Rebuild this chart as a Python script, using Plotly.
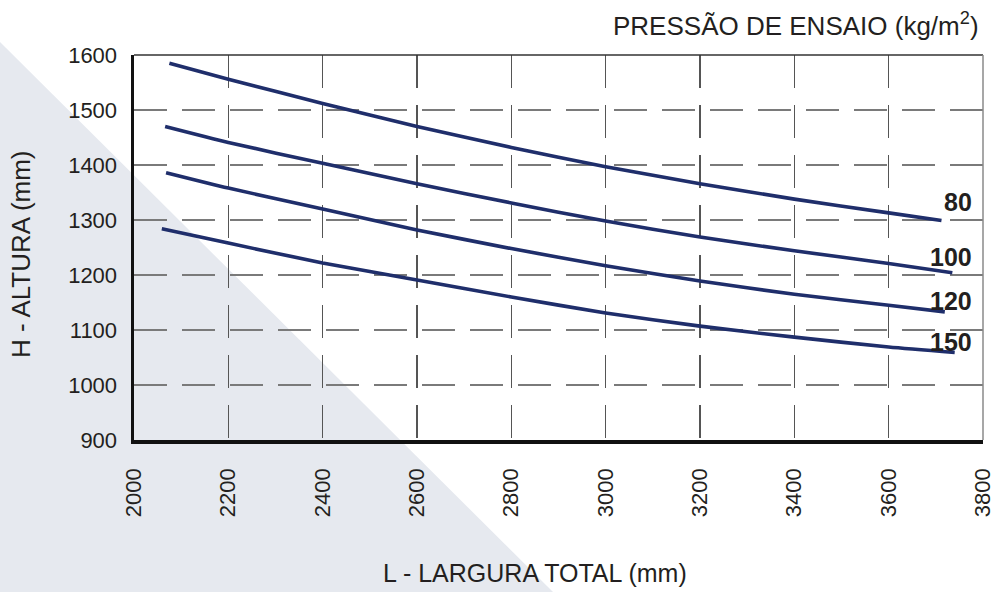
import plotly.graph_objects as go

# ---- data ----
pressures = ["80", "100", "120", "150"]

x_80 = [2075, 2200, 2400, 2600, 2800, 3000, 3200, 3400, 3600, 3712]
y_80 = [1585, 1556, 1512, 1470, 1432, 1397, 1366, 1338, 1313, 1299]

x_100 = [2066, 2200, 2400, 2600, 2800, 3000, 3200, 3400, 3600, 3735]
y_100 = [1470, 1441, 1403, 1366, 1331, 1298, 1269, 1244, 1221, 1204]

x_120 = [2068, 2200, 2400, 2600, 2800, 3000, 3200, 3400, 3600, 3719]
y_120 = [1386, 1358, 1320, 1282, 1248, 1217, 1189, 1165, 1145, 1133]

x_150 = [2059, 2200, 2400, 2600, 2800, 3000, 3200, 3400, 3600, 3740]
y_150 = [1284, 1258, 1222, 1191, 1160, 1131, 1107, 1087, 1069, 1059]

x_ticks = [2000, 2200, 2400, 2600, 2800, 3000, 3200, 3400, 3600, 3800]
y_ticks = [900, 1000, 1100, 1200, 1300, 1400, 1500, 1600]

series_x = [x_80, x_100, x_120, x_150]
series_y = [y_80, y_100, y_120, y_150]

FONT = "Liberation Sans, Arial, Helvetica, sans-serif"
TXT = "#231f20"
LINE = "#1f2e6b"

fig = go.Figure()
for name, xs, ys in zip(pressures, series_x, series_y):
    fig.add_trace(go.Scatter(
        x=xs, y=ys, mode="lines", name=name,
        line=dict(color=LINE, width=3.6, shape="spline", smoothing=0.6),
        showlegend=False, hoverinfo="skip"))

# curve labels (bold numbers at right end)
label_pos = {"80": 1332, "100": 1233, "120": 1153, "150": 1079}
for name in pressures:
    fig.add_annotation(x=3780, y=label_pos[name], xref="x", yref="y",
                       text=f"<b>{name}</b>", showarrow=False,
                       xanchor="right", yanchor="middle",
                       font=dict(family=FONT, size=25, color=TXT))

# grey background triangle (paper coords computed from plot-area geometry)
L, R, T, B = 134, 983, 55, 440
W, H = R - L, B - T
def px(xp): return (xp - L) / W
def py(yp): return (B - yp) / H

tri = f"M {px(0)},{py(42)} L {px(553)},{py(592)} L {px(0)},{py(592)} Z"
fig.add_shape(type="path", path=tri, xref="paper", yref="paper",
              fillcolor="#e6e9ef", line=dict(width=0), layer="below")

# top and right thin borders
fig.add_shape(type="line", xref="paper", yref="paper", x0=0, x1=1, y0=1, y1=1,
              line=dict(color="#333333", width=1.5))
fig.add_shape(type="line", xref="paper", yref="paper", x0=1, x1=1, y0=0, y1=1,
              line=dict(color="#8a8a8a", width=1.5))

# titles
fig.add_annotation(x=px(981), y=py(25), xref="paper", yref="paper",
                   text="PRESSÃO DE ENSAIO (kg/m<sup>2</sup>)", showarrow=False,
                   xanchor="right", yanchor="middle",
                   font=dict(family=FONT, size=26, color=TXT))
fig.add_annotation(x=px(535), y=py(573), xref="paper", yref="paper",
                   text="L - LARGURA TOTAL (mm)", showarrow=False,
                   xanchor="center", yanchor="middle",
                   font=dict(family=FONT, size=25, color=TXT))
fig.add_annotation(x=px(21), y=py(254), xref="paper", yref="paper",
                   text="H - ALTURA (mm)", showarrow=False, textangle=-90,
                   xanchor="center", yanchor="middle",
                   font=dict(family=FONT, size=26, color=TXT))

fig.update_layout(
    width=997, height=592,
    margin=dict(l=L, r=997 - R, t=T, b=592 - B, pad=0, autoexpand=False),
    paper_bgcolor="white", plot_bgcolor="rgba(0,0,0,0)",
    font=dict(family=FONT, size=22, color=TXT),
)
fig.update_xaxes(
    range=[2000, 3800], tickvals=x_ticks, ticktext=[str(v) for v in x_ticks],
    tickangle=-90, showline=True, linecolor="#111111", linewidth=3.5,
    showgrid=True, gridcolor="#555555", gridwidth=1.3, griddash="33px,17px",
    ticks="", ticklabelstandoff=16, zeroline=False, automargin=False,
    tickfont=dict(family=FONT, size=22, color=TXT))
fig.update_yaxes(
    range=[900, 1600], tickvals=y_ticks, ticktext=[str(v) for v in y_ticks],
    showline=True, linecolor="#111111", linewidth=3.5,
    showgrid=True, gridcolor="#7a7a7a", gridwidth=1.3, griddash="33px,15px",
    ticks="", ticklabelstandoff=9, zeroline=False, automargin=False,
    tickfont=dict(family=FONT, size=22, color=TXT))

fig.write_html(
    "out.html",
    config={"displayModeBar": False, "staticPlot": True},
    post_script="document.body.style.margin='0';document.body.style.overflow='hidden';",
)
